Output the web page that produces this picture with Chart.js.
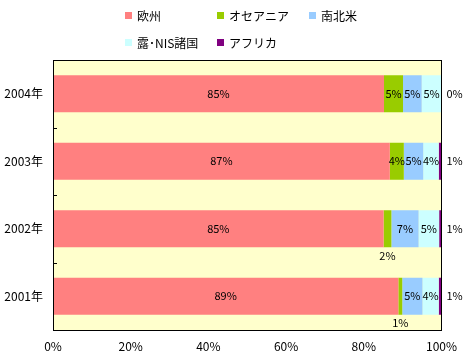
<!DOCTYPE html>
<html><head><meta charset="utf-8">
<script src="https://cdn.jsdelivr.net/npm/chart.js@4.4.1/dist/chart.umd.min.js"></script>
<style>html,body{margin:0;padding:0;background:#fff}#w{width:466px;height:359px}</style>
</head><body><div id="w"><canvas id="c"></canvas></div>
<script>
const categories = ['2004年','2003年','2002年','2001年'];
const europe   = [85.2, 86.7, 85.1, 88.9];
const oceania  = [4.9, 3.6, 2.0, 1.0];
const americas = [4.8, 5.0, 7.0, 5.2];
const nis      = [5.1, 4.0, 5.3, 4.2];
const africa   = [0.0, 0.7, 0.6, 0.7];
const seriesNames = ['欧州','オセアニア','南北米','露･NIS諸国','アフリカ'];
const colors = ['#FF8080','#99CC00','#99CCFF','#CCFFFF','#800080'];
const xTicks = [0,20,40,60,80,100];

const FONT = '12px "Noto Sans CJK JP", "DejaVu Sans", sans-serif';
const LFONT = '11px "Noto Sans CJK JP", "DejaVu Sans", sans-serif';
const series = [europe, oceania, americas, nis, africa];

const plot = {
  id:'plot',
  beforeDatasetsDraw(chart){
    const {ctx, chartArea:a} = chart;
    ctx.save(); ctx.fillStyle='#FFFFCC'; ctx.fillRect(a.left,a.top,a.right-a.left,a.bottom-a.top); ctx.restore();
  },
  afterDatasetsDraw(chart){
    const {ctx, chartArea:a} = chart;
    const ys = chart.scales.y;
    ctx.save();
    ctx.strokeStyle='#000'; ctx.lineWidth=1;
    ctx.strokeRect(Math.round(a.left)+0.5, Math.round(a.top)+0.5, Math.round(a.right-a.left), Math.round(a.bottom-a.top));
    for(let i=0;i<categories.length-1;i++){
      const y = Math.round((ys.getPixelForValue(i)+ys.getPixelForValue(i+1))/2)+0.5;
      ctx.beginPath(); ctx.moveTo(a.left, y); ctx.lineTo(a.left+4, y); ctx.stroke();
    }
    ctx.font = LFONT; ctx.fillStyle='#000'; ctx.textBaseline='middle';
    chart.data.datasets.forEach((ds, di)=>{
      const meta = chart.getDatasetMeta(di);
      meta.data.forEach((el, i)=>{
        const v = ds.data[i];
        const txt = Math.round(v)+'%';
        const cy = el.y;
        if(di===4){
          ctx.textAlign='left'; ctx.fillText(txt, a.right+5, cy);
        } else if(v<3){
          ctx.textAlign='center'; ctx.fillText(txt, (el.x+el.base)/2, cy + el.height/2 + 8);
        } else {
          ctx.textAlign='center'; ctx.fillText(txt, (el.x+el.base)/2, cy);
        }
      });
    });
    // legend
    ctx.font = FONT;
    const pos = [[125,12],[217,12],[309,12],[125,39],[217,39]];
    ctx.textAlign='left';
    seriesNames.forEach((n,i)=>{
      const [x,y]=pos[i];
      ctx.fillStyle=colors[i]; ctx.fillRect(x,y,7,7);
      ctx.fillStyle='#000'; ctx.fillText(n, x+12, y+4);
    });
    ctx.restore();
  }
};

new Chart(document.getElementById('c'), {
  type:'bar',
  data:{
    labels: categories,
    datasets: series.map((d,i)=>({label:seriesNames[i], data:d, backgroundColor:colors[i], borderWidth:0,
      barPercentage:0.55, categoryPercentage:1}))
  },
  options:{
    indexAxis:'y', responsive:true, maintainAspectRatio:false, animation:false,
    layout:{padding:{left:0,right:24,top:60,bottom:0}},
    plugins:{legend:{display:false}, tooltip:{enabled:false}},
    scales:{
      x:{stacked:true, min:0, max:100, afterBuildTicks(s){ s.ticks = xTicks.map(v=>({value:v})); },
        grid:{display:false, drawTicks:false}, border:{display:false},
        ticks:{color:'#000', font:{family:'"Noto Sans CJK JP", sans-serif', size:12}, padding:9, callback:v=>v+'%', maxRotation:0},
        afterFit(s){ s.height = 29; }},
      y:{stacked:true, grid:{display:false, drawTicks:false}, border:{display:false},
        ticks:{color:'#000', font:{family:'"Noto Sans CJK JP", sans-serif', size:12}, padding:10},
        afterFit(s){ s.width = 53; }}
    }
  },
  plugins:[plot]
});
</script></body></html>
